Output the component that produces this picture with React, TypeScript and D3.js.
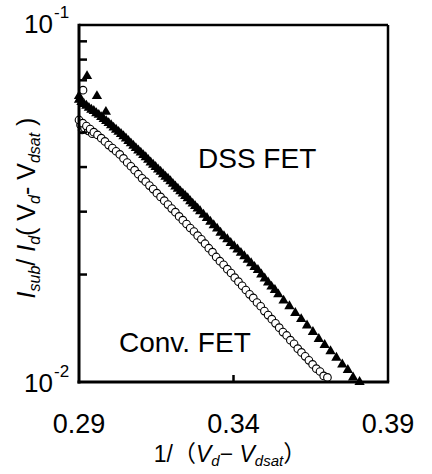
import React from "react";
import * as d3 from "d3";

// DSS FET (filled triangles)
const dssX = [
  0.2900, 0.2926, 0.2958, 0.2987,
  0.2900, 0.2908, 0.2916, 0.2924, 0.2932, 0.2940, 0.2948, 0.2956, 0.2964, 0.2972,
  0.2980, 0.2988, 0.2996, 0.3004, 0.3012, 0.3020, 0.3028, 0.3036,
  0.3044, 0.3052, 0.3060, 0.3068, 0.3076, 0.3084, 0.3092, 0.3100,
  0.3108, 0.3116, 0.3124, 0.3132, 0.3140, 0.3148, 0.3156, 0.3164,
  0.3172, 0.3180, 0.3188, 0.3196, 0.3204, 0.3212, 0.3220, 0.3228, 0.3236, 0.3244,
  0.3252, 0.3260, 0.3268, 0.3276, 0.3284, 0.3292,
  0.3303, 0.3314, 0.3325, 0.3336, 0.3347, 0.3358, 0.3369, 0.3380, 0.3391, 0.3402,
  0.3413, 0.3424, 0.3435, 0.3446, 0.3457, 0.3468, 0.3479, 0.3490, 0.3501, 0.3512,
  0.3523, 0.3534, 0.3545,
  0.3562, 0.3581, 0.3600, 0.3619, 0.3638, 0.3657, 0.3676, 0.3695, 0.3714, 0.3733,
  0.3752, 0.3770, 0.3787, 0.3808,
];
const dssY = [
  0.0632, 0.0719, 0.0632, 0.0571,
  0.0617, 0.0608, 0.0601, 0.0594, 0.0586, 0.0579, 0.0574, 0.0566, 0.0560, 0.0552,
  0.0545, 0.0538, 0.0531, 0.0524, 0.0516, 0.0509, 0.0502, 0.0495,
  0.0488, 0.0481, 0.0473, 0.0466, 0.0459, 0.0452, 0.0445, 0.0439,
  0.0432, 0.0426, 0.0419, 0.0412, 0.0406, 0.0400, 0.0394, 0.0388,
  0.0382, 0.0376, 0.0371, 0.0365, 0.0359, 0.0353, 0.0348, 0.0342, 0.0337, 0.0332,
  0.0327, 0.0321, 0.0316, 0.0311, 0.0306, 0.0301,
  0.0294, 0.0288, 0.0281, 0.0275, 0.0269, 0.0262, 0.0256, 0.0251, 0.0245, 0.0240,
  0.0235, 0.0230, 0.0225, 0.0220, 0.0215, 0.0210, 0.0206, 0.0200, 0.0195, 0.0190,
  0.0185, 0.0181, 0.0176,
  0.0169, 0.0163, 0.0156, 0.0150, 0.0144, 0.0138, 0.0132, 0.0127, 0.0122, 0.0117,
  0.0112, 0.0108, 0.0103, 0.0100,
];

// Conv. FET (open circles)
const convX = [
  0.2913, 0.2910, 0.2905, 0.2918, 0.2930, 0.2943,
  0.2900, 0.2912, 0.2924, 0.2936, 0.2948, 0.2960, 0.2972, 0.2984, 0.2996, 0.3008,
  0.3020, 0.3032, 0.3044, 0.3056, 0.3068, 0.3080, 0.3092, 0.3104, 0.3116, 0.3128,
  0.3140, 0.3152, 0.3164, 0.3176, 0.3188, 0.3200, 0.3212, 0.3224, 0.3236, 0.3248,
  0.3260, 0.3272, 0.3284, 0.3296, 0.3308, 0.3320, 0.3332, 0.3344, 0.3356, 0.3368,
  0.3380, 0.3392, 0.3404, 0.3416, 0.3428, 0.3440, 0.3452, 0.3464, 0.3476, 0.3488,
  0.3500, 0.3512, 0.3524, 0.3536, 0.3548, 0.3560, 0.3572, 0.3584, 0.3596, 0.3608,
  0.3620, 0.3632, 0.3644, 0.3656, 0.3668, 0.3680, 0.3692, 0.3704,
];
const convY = [
  0.0657, 0.0508, 0.0525, 0.0515, 0.0505, 0.0496,
  0.0542, 0.0531, 0.0521, 0.0511, 0.0501, 0.0492, 0.0482, 0.0472, 0.0461, 0.0452,
  0.0443, 0.0434, 0.0423, 0.0412, 0.0402, 0.0392, 0.0382, 0.0372, 0.0364, 0.0355,
  0.0347, 0.0338, 0.0330, 0.0322, 0.0314, 0.0306, 0.0299, 0.0291, 0.0284, 0.0277,
  0.0270, 0.0264, 0.0257, 0.0251, 0.0244, 0.0237, 0.0231, 0.0224, 0.0218, 0.0213,
  0.0207, 0.0202, 0.0196, 0.0191, 0.0186, 0.0181, 0.0176, 0.0172, 0.0167, 0.0163,
  0.0158, 0.0154, 0.0150, 0.0146, 0.0142, 0.0138, 0.0135, 0.0131, 0.0128, 0.0124,
  0.0121, 0.0118, 0.0115, 0.0112, 0.0109, 0.0107, 0.0104, 0.0103,
];

const xTicks = [0.29, 0.34, 0.39];
const xTickLabels = ["0.29", "0.34", "0.39"];
const yMinorTicks = [0.02, 0.03, 0.04, 0.05, 0.06, 0.07, 0.08, 0.09];
const yMajor = [
  { v: 0.01, exp: "-2" },
  { v: 0.1, exp: "-1" },
];

const FONT = "'Liberation Sans', Arial, 'Noto Sans CJK JP', sans-serif";

export default function App() {
  const W = 432;
  const H = 474;
  const L = 79, R = 388, T = 25, B = 382;
  const x = d3.scaleLinear().domain([0.29, 0.39]).range([L, R]);
  const y = d3.scaleLog().domain([0.01, 0.1]).range([B, T]);
  const tri = d3.symbol(d3.symbolTriangle, 46)() as string;

  return (
    <svg
      width={W}
      height={H}
      style={{ position: "absolute", left: 0, top: 0, background: "#fff" }}
      fontFamily={FONT}
    >
      <rect x={0} y={0} width={W} height={H} fill="#fff" />
      {/* circles */}
      {convX.map((xv, i) => (
        <circle
          key={"c" + i}
          cx={x(xv)}
          cy={y(convY[i])}
          r={3.8}
          fill="#fff"
          stroke="#000"
          strokeWidth={1.1}
        />
      ))}
      {/* triangles */}
      {dssX.map((xv, i) => (
        <path
          key={"t" + i}
          d={tri}
          transform={`translate(${x(xv)},${y(dssY[i])})`}
          fill="#000"
        />
      ))}
      {/* frame */}
      <line x1={L} x2={R} y1={T} y2={T} stroke="#000" strokeWidth={2.5} />
      <line x1={R} x2={R} y1={T} y2={B} stroke="#000" strokeWidth={2.5} />
      <line x1={L} x2={L} y1={T - 1.2} y2={B + 1.5} stroke="#000" strokeWidth={3} />
      <line x1={L - 1.5} x2={R + 1.2} y1={B} y2={B} stroke="#000" strokeWidth={3} />
      {/* y minor ticks */}
      {yMinorTicks.map((v) => (
        <line key={"ym" + v} x1={L} x2={L + 8} y1={y(v)} y2={y(v)} stroke="#000" strokeWidth={2.5} />
      ))}
      {/* x ticks */}
      {xTicks.map((v, i) => (
        <g key={"xt" + v}>
          {i === 1 && (
            <line x1={x(v)} x2={x(v)} y1={B} y2={B - 7} stroke="#000" strokeWidth={2.5} />
          )}
          <text x={x(v)} y={433} textAnchor="middle" fontSize={27} fill="#000">
            {xTickLabels[i]}
          </text>
        </g>
      ))}
      {/* y major labels */}
      {yMajor.map((m) => (
        <g key={"ymj" + m.v}>
          <text x={53} y={y(m.v) + (m.v === 0.01 ? 10 : 8)} textAnchor="end" fontSize={26} fill="#000">
            10
          </text>
          <text x={54} y={y(m.v) + (m.v === 0.01 ? -5 : -7)} textAnchor="start" fontSize={17} fill="#000">
            {m.exp}
          </text>
        </g>
      ))}
      {/* annotations */}
      <text x={198} y={168} fontSize={28} fill="#000">DSS FET</text>
      <text x={119} y={352} fontSize={28} fill="#000">Conv. FET</text>
      {/* y axis label */}
      <text
        transform="translate(35,208) rotate(-90)"
        textAnchor="middle"
        fontSize={25}
        fill="#000"
      >
        <tspan fontStyle="italic">I</tspan>
        <tspan fontStyle="italic" fontSize={16} dy={5}>sub</tspan>
        <tspan dy={-5}>/ </tspan>
        <tspan fontStyle="italic">I</tspan>
        <tspan fontStyle="italic" fontSize={16} dy={5}>d</tspan>
        <tspan dy={-5}>( V</tspan>
        <tspan fontStyle="italic" fontSize={16} dy={5}>d</tspan>
        <tspan dy={-5}>- V</tspan>
        <tspan fontStyle="italic" fontSize={16} dy={5}>dsat</tspan>
        <tspan dy={-5}> )</tspan>
      </text>
      {/* x axis label */}
      <text x={230} y={462} textAnchor="middle" fontSize={23} fill="#000">
        <tspan>1/（</tspan>
        <tspan fontStyle="italic">V</tspan>
        <tspan fontStyle="italic" fontSize={15} dy={4}>d</tspan>
        <tspan dy={-4}>− </tspan>
        <tspan fontStyle="italic">V</tspan>
        <tspan fontStyle="italic" fontSize={15} dy={4}>dsat</tspan>
        <tspan dy={-4}>）</tspan>
      </text>
    </svg>
  );
}
